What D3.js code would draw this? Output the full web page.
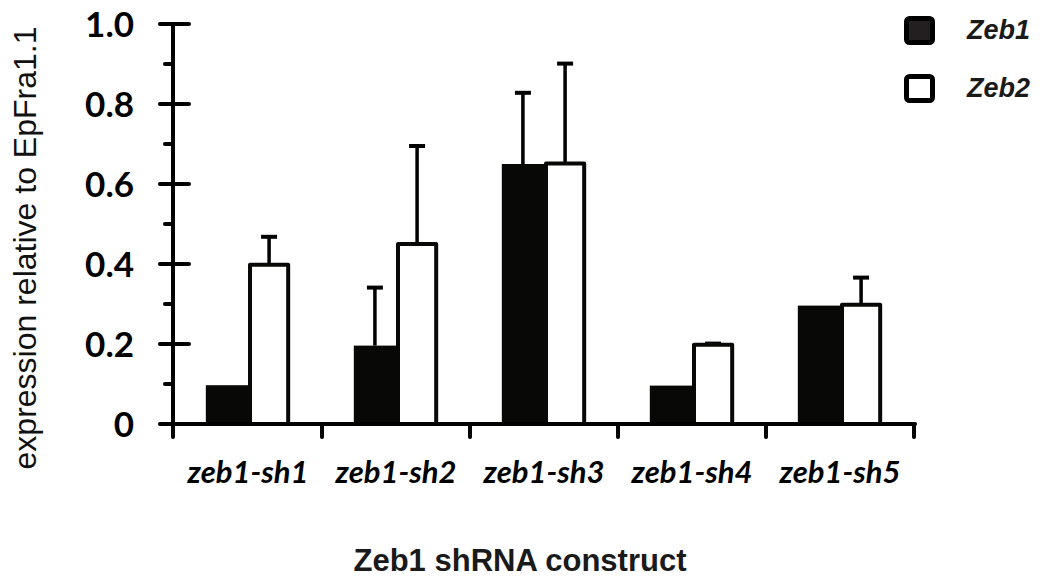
<!DOCTYPE html>
<html>
<head>
<meta charset="utf-8">
<script src="https://cdn.jsdelivr.net/npm/d3@7/dist/d3.min.js"></script>
<style>
html, body { margin: 0; padding: 0; background: #fff; }
svg { display: block; }
</style>
</head>
<body>
<svg id="chart" width="1043" height="583"></svg>
<script>
// ---- data ----
const categories = ["zeb1-sh1", "zeb1-sh2", "zeb1-sh3", "zeb1-sh4", "zeb1-sh5"];
const seriesNames = ["Zeb1", "Zeb2"];
const zeb1Values = [0.097, 0.196, 0.650, 0.096, 0.296];
const zeb1Errors = [0, 0.145, 0.178, 0, 0];
const zeb2Values = [0.398, 0.450, 0.651, 0.198, 0.298];
const zeb2Errors = [0.070, 0.245, 0.250, 0.003, 0.068];
const majorTicks = [0, 0.2, 0.4, 0.6, 0.8, 1.0];
const majorTickLabels = ["0", "0.2", "0.4", "0.6", "0.8", "1.0"];
const minorTicks = [0.1, 0.3, 0.5, 0.7, 0.9];
const yTitle = "expression relative to EpFra1.1";
const xTitle = "Zeb1 shRNA construct";

// ---- layout ----
const svg = d3.select("#chart");
const axisX = 173, axisY = 424, topY = 24, rightX = 915;

const y = d3.scaleLinear().domain([0, 1]).range([axisY, topY]);
const x0 = d3.scaleBand().domain(categories).range([axisX + 1, rightX - 1])
  .paddingInner(0.43).paddingOuter(0.215);
const x1 = d3.scaleBand().domain(seriesNames).range([0, x0.bandwidth()]);

const rows = categories.map((c, i) => ({
  cat: c,
  vals: [
    { s: "Zeb1", v: zeb1Values[i], e: zeb1Errors[i] },
    { s: "Zeb2", v: zeb2Values[i], e: zeb2Errors[i] }
  ]
}));

const g = svg.append("g");

// bars
const groups = g.selectAll("g.grp").data(rows).join("g")
  .attr("class", "grp")
  .attr("transform", d => `translate(${x0(d.cat)},0)`);

// error bars (drawn before bars so they start at the bar top)
groups.selectAll("g.err").data(d => d.vals.filter(v => v.e > 0)).join("g")
  .attr("class", "err")
  .each(function (d) {
    const cx = x1(d.s) + x1.bandwidth() / 2;
    const sel = d3.select(this);
    sel.append("line")
      .attr("x1", cx).attr("x2", cx)
      .attr("y1", y(d.v)).attr("y2", y(d.v + d.e))
      .attr("stroke", "#000").attr("stroke-width", 3.5);
    sel.append("line")
      .attr("x1", cx - 8).attr("x2", cx + 8)
      .attr("y1", y(d.v + d.e)).attr("y2", y(d.v + d.e))
      .attr("stroke", "#000").attr("stroke-width", 4);
  });

groups.selectAll("rect.bar").data(d => d.vals).join("rect")
  .attr("class", "bar")
  .attr("x", d => d.s === "Zeb1" ? x1(d.s) : x1(d.s) + 2)
  .attr("width", d => d.s === "Zeb1" ? x1.bandwidth() + 1 : x1.bandwidth() - 4)
  .attr("y", d => y(d.v))
  .attr("height", d => y(0) - y(d.v))
  .attr("fill", d => d.s === "Zeb1" ? "#080806" : "#fff")
  .attr("stroke", d => d.s === "Zeb1" ? "none" : "#080806")
  .attr("stroke-width", 4)
  .attr("stroke-linejoin", "round");

// ---- axes ----
const lineStyle = sel => sel.attr("stroke", "#000").attr("stroke-width", 4).attr("stroke-linecap", "round");

// y axis line
g.append("line").attr("x1", axisX).attr("x2", axisX).attr("y1", topY).attr("y2", 437).call(lineStyle);
// major ticks
g.selectAll("line.major").data(majorTicks).join("line").attr("class", "major")
  .attr("x1", axisX - 13).attr("x2", axisX + 16)
  .attr("y1", d => y(d)).attr("y2", d => y(d)).call(lineStyle);
// minor ticks
g.selectAll("line.minor").data(minorTicks).join("line").attr("class", "minor")
  .attr("x1", axisX - 8).attr("x2", axisX)
  .attr("y1", d => y(d)).attr("y2", d => y(d)).call(lineStyle);
// tick labels
g.selectAll("text.ylab").data(majorTicks).join("text").attr("class", "ylab")
  .attr("x", 134).attr("y", d => y(d))
  .attr("dy", "0.36em")
  .attr("text-anchor", "end")
  .style("font-family", "Lato, 'Open Sans', sans-serif")
  .style("font-weight", "bold")
  .style("font-size", "35px")
  .text((d, i) => majorTickLabels[i]);

// x axis line
g.append("line").attr("x1", axisX).attr("x2", rightX).attr("y1", axisY).attr("y2", axisY).call(lineStyle);
// category boundary ticks
const step = x0.step();
const bounds = categories.map(c => x0(c) + x0.bandwidth() + (step - x0.bandwidth()) / 2);
g.selectAll("line.xtick").data(bounds).join("line").attr("class", "xtick")
  .attr("x1", d => d).attr("x2", d => d)
  .attr("y1", axisY).attr("y2", 437).call(lineStyle);

// category labels
g.selectAll("text.xlab").data(categories).join("text").attr("class", "xlab")
  .attr("x", d => x0(d) + x0.bandwidth() / 2)
  .attr("y", 483)
  .attr("text-anchor", "middle")
  .style("font-family", "Lato, 'Open Sans', sans-serif")
  .style("font-weight", "bold")
  .style("font-style", "italic")
  .style("font-size", "31px")
  .text(d => d);

// axis titles
svg.append("text")
  .attr("transform", "translate(36,248) rotate(-90)")
  .attr("text-anchor", "middle")
  .style("font-family", "'Liberation Sans', Arial, sans-serif")
  .style("font-size", "32px")
  .attr("fill", "#111")
  .text(yTitle);

svg.append("text")
  .attr("x", 520).attr("y", 571)
  .attr("text-anchor", "middle")
  .style("font-family", "'Liberation Sans', Arial, sans-serif")
  .style("font-weight", "bold")
  .style("font-size", "31px")
  .attr("fill", "#1a1a1a")
  .text(xTitle);

// legend
const legY = d3.scalePoint().domain(seriesNames).range([30, 88]);
const leg = svg.selectAll("g.leg").data(seriesNames).join("g").attr("class", "leg")
  .attr("transform", d => `translate(0,${legY(d)})`);
leg.append("rect")
  .attr("x", 906.5).attr("y", -11.5).attr("width", 26).attr("height", 24).attr("rx", 3)
  .attr("fill", d => d === "Zeb1" ? "#231f20" : "#fff")
  .attr("stroke", "#000").attr("stroke-width", 5);
leg.append("text")
  .attr("x", 967).attr("y", 9)
  .style("font-family", "'Liberation Sans', Arial, sans-serif")
  .style("font-weight", "bold")
  .style("font-style", "italic")
  .style("font-size", "27px")
  .attr("fill", "#1a1a1a")
  .text(d => d);
</script>
</body>
</html>
